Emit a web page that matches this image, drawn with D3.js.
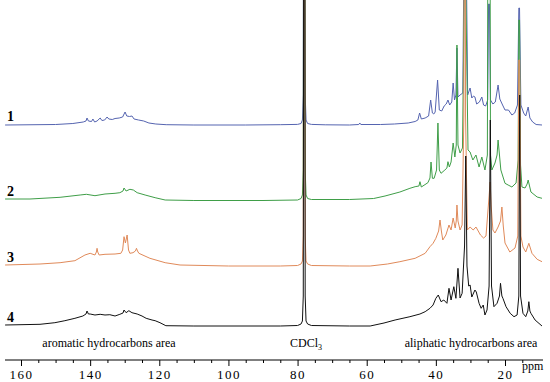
<!DOCTYPE html>
<html><head><meta charset="utf-8">
<script src="https://cdn.jsdelivr.net/npm/d3@7"></script>
<style>body{margin:0;background:#fff}svg{display:block}
text{font-family:'Liberation Serif','Times New Roman',serif}</style>
</head><body>
<div id="chart"></div>
<script>
// ---- data: [ppm, intensity] ----
const spectrumLabels = ["1","2","3","4"];
const spectrumColors = ["#5564b0","#3f9e48","#e08a5a","#111111"];
const majorTicks = [160,140,120,100,80,60,40,20];
const minorTicks = [155,150,145,135,130,125,115,110,105,95,90,85,75,70,65,55,50,45,35,30,25,15];
const regionLabels = ["aromatic hydrocarbons area","CDCl","aliphatic hydrocarbons area"];

const spectrum1 = [[164.6,0],[150,0.5],[145,1.5],[142,3],[141.2,4],[140.9,7],[140.5,4],[139.6,3.5],[139.2,6],[138.7,3],[138,4],[137.1,7],[136.6,4.5],[135.8,5],[135.1,8],[134.6,6],[133.6,5.5],[132.8,6.5],[131.6,7],[130.6,8],[129.9,13],[129.4,9],[128.6,8.5],[127.9,9],[127.3,6],[126,5],[124.5,4],[123,2],[121,1],[118,0.3],[110,0],
[95,0],[85,0.3],[80,0.6],[79,1.5],[78.6,5],[78.35,30],[78.2,500],[77.95,500],[77.8,30],[77.55,5],[77.1,1.5],[76,0.6],[72,0.2],[65,0],[62.3,0.5],[62,2],[61.7,0.5],[56,0.5],[52,1],[48,2],[46,3.5],[45.2,5],[44.7,12],[44.2,6],[43.1,7],[42.1,9],[41.5,25],[41,12],[40.6,11],[40.2,13],[39.5,45],[39,15],[38.3,14],[37.6,19],[37,21],[36.5,25],[36,20],[35.4,23],[35,42],[34.6,25],[34.2,30],[33.9,77],[33.6,28],[33,30],[32.2,32],[31.8,200],[31.6,500],[31.3,200],[30.8,30],[30.1,37],[29.6,27],[29.1,29],[28.7,28],[28.2,21],[27.4,23],[26.7,28],[26.2,20],[25.6,19],[25,25],[24.75,121],[24.5,121],[24.2,25],[23.5,21],[22.8,23],[22.0,40],[21.5,26],[20.7,20],[20,15],[19,15],[18,10],[17.2,12],[16.4,20],[16.0,117],[15.8,117],[15.4,20],[14.6,12],[14,9],[13.3,18],[12.8,7],[12,3],[11,0.5],[9.3,0]];

const spectrum2 = [[164.6,1],[157.4,1],[148.7,2.7],[142.9,5],[141.1,5.7],[138.6,4.3],[135.7,6],[132.8,6.7],[131.4,7.3],[130.5,9],[130.2,12],[129.6,9],[128.5,10.7],[127.5,10],[126.4,7.3],[124.1,5],[121.2,2.3],[118.3,0],[110,-0.5],
[90,-0.5],[80,0],[79,1.5],[78.6,5],[78.35,30],[78.2,500],[77.95,500],[77.8,30],[77.55,5],[77.1,1.5],[76,0.5],[65,0.5],[58,1.5],[54.7,4],[50.4,8],[47.5,11.7],[46,13.3],[44.9,14],[44.6,18.3],[44.2,13],[42.3,17.3],[41.7,22],[41.4,38],[41,21.7],[40.5,21.7],[39.8,30],[39.4,77],[39,30],[38.5,26.7],[37.4,30],[36.8,32],[36.5,38.3],[36.1,33],[35.6,38],[35.0,57],[34.5,43],[34.1,55],[33.9,155],[33.6,55],[33.0,47],[32.3,52],[31.8,200],[31.6,600],[31.3,200],[30.7,50],[30.1,48],[29.3,40],[28.4,45],[27.5,33],[26.7,43],[25.8,30],[25.1,45],[24.75,600],[24.5,600],[24.2,45],[23.8,30],[22.9,37],[22.3,45],[22.0,60],[21.6,45],[21.2,30],[20.0,16.7],[19.1,15],[18.0,13],[16.8,17],[16.2,40],[16.0,180],[15.8,180],[15.5,35],[15.1,13],[14.2,12],[13.6,16],[13.3,20],[12.9,14],[12.5,8],[10.7,3],[9.3,1.7]];

const spectrum3 = [[164.6,1],[154.5,2],[148.7,3.3],[144.4,5.3],[141.5,11],[140,12.7],[138.6,11],[138.2,14],[138.0,17.7],[137.8,14],[137.4,11],[135.7,11.7],[132.8,12],[131.1,12.7],[130.6,16],[130.2,29.3],[129.8,23],[129.3,31],[128.9,16],[128.5,12.7],[127.6,13.3],[126.9,15],[126.6,17.7],[126.3,15],[125.9,12.7],[122.7,7.7],[118.3,3.3],[114,1],[100,0],
[85,0],[80,0.5],[79,2],[78.6,5],[78.35,30],[78.2,500],[77.95,500],[77.8,30],[77.55,5],[77.1,2],[76,0.5],[65,0],[59,0],[54,2],[50.4,4.3],[46,7.7],[43.1,12.7],[41.7,19.3],[40.8,22.7],[40.0,27.7],[39.2,35],[38.8,46],[38.4,35],[38.0,26],[37.1,31],[36.2,41],[35.6,36],[35.0,48],[34.4,38],[34.1,45],[33.9,61],[33.6,45],[33.0,36],[32.4,41],[31.9,150],[31.65,600],[31.4,150],[30.9,36],[30.1,39],[29.2,36],[28.4,39],[27.1,31],[26.2,28],[25.5,30],[24.6,70],[24.3,84],[24.0,60],[23.5,36],[22.9,33],[22.0,39],[21.3,45],[20.9,59],[20.5,40],[20.0,23],[18.6,14],[17.1,18],[16.3,30],[16.0,206],[15.75,206],[15.4,30],[14.8,19],[14.0,14],[13.1,22.7],[12.2,12.7],[10.7,6.7],[9.3,4.3]];

const spectrum4 = [[164.6,1],[154.5,1.7],[150.2,3.3],[147.3,5.3],[144.4,7.7],[142.1,10],[141.2,12],[140.9,15],[140.5,12],[140.0,12],[138.6,11],[137.1,11.7],[135.7,11],[134.3,11.3],[132.8,10],[131.4,11.7],[130.5,13],[130.2,16],[129.6,13.3],[128.8,15.3],[127.9,13.3],[126.4,12],[125.0,10],[123.8,7.7],[122.1,6],[121.2,5.3],[119.8,3.3],[118.1,0.3],[110,0],
[85,0],[80,0.5],[79,2],[78.6,5],[78.35,30],[78.2,500],[77.95,500],[77.8,30],[77.55,5],[77.1,2],[76,0.5],[65,0],[59,0],[55,3],[51.8,6],[47.5,9.3],[44.6,12],[43.1,14.3],[41.7,17.7],[40.8,21],[40.0,27.7],[39.3,31],[38.5,24.3],[37.7,26],[36.8,22.7],[36.2,37.7],[35.6,26],[34.8,39.3],[34.2,27.7],[33.6,57.7],[33.0,28],[32.4,32.7],[31.7,80],[31.35,170],[31.0,60],[30.5,40],[30.1,41],[29.6,29],[28.7,36],[28.3,34],[27.5,22.7],[26.9,17.7],[26.3,21],[25.8,11],[25.2,16],[24.6,40],[24.25,206],[23.9,40],[23.2,19.3],[22.3,22.7],[21.6,30],[21.3,42.7],[20.9,30],[20.6,27.7],[19.7,19.3],[18.5,12.7],[17.4,9.3],[16.5,11],[16.0,30],[15.75,231],[15.5,30],[14.8,12.7],[14.0,9.3],[13.4,15],[13.1,24.3],[12.8,15],[12.5,12.7],[11.3,6],[9.3,0]];

const spectra = [spectrum1, spectrum2, spectrum3, spectrum4];

// ---- layout ----
const W = 550, H = 382;
const baselines = [125, 200, 266, 326];
const serif = "'Liberation Serif','Times New Roman',serif";
const svg = d3.select("#chart").append("svg").attr("width", W).attr("height", H);

const x = d3.scaleLinear().domain([160, 20]).range([21, 505]);
const axisY = 360;

spectra.forEach((data, i) => {
  const y = d3.scaleLinear().domain([0, 100]).range([baselines[i], baselines[i] - 100]);
  const line = d3.line().x(d => x(d[0])).y(d => y(d[1]));
  svg.append("path").datum(data)
    .attr("fill", "none").attr("stroke", spectrumColors[i])
    .attr("stroke-width", 1).attr("stroke-linejoin", "round")
    .attr("d", line);
  svg.append("text").attr("x", 7).attr("y", baselines[i] - 4)
    .style("font-family", serif)
    .attr("font-weight", "bold").attr("font-size", 14).attr("fill", "#000")
    .text(spectrumLabels[i]);
});

// axis
const ax = svg.append("g").attr("transform", `translate(0,${axisY})`);
ax.append("line").attr("x1", 5).attr("x2", 543).attr("y1", 0).attr("y2", 0)
  .attr("stroke", "#000").attr("stroke-width", 1);
const major = d3.axisBottom(x).tickValues(majorTicks).tickSize(6).tickPadding(4);
const gMaj = ax.append("g").call(major).attr("font-family", null);
gMaj.select(".domain").remove();
gMaj.selectAll("text").style("font-family", serif)
  .attr("font-size", 13).attr("fill", "#000").attr("letter-spacing", 1.5);
const minor = d3.axisBottom(x).tickValues(minorTicks).tickSize(3).tickFormat("");
const gMin = ax.append("g").call(minor);
gMin.select(".domain").remove();

svg.append("text").attr("x", 522).attr("y", 370)
  .style("font-family", serif)
  .attr("font-size", 12).attr("fill", "#000").text("ppm");

svg.append("text").attr("x", 109).attr("y", 347).attr("text-anchor", "middle")
  .style("font-family", serif).attr("font-size", 12).text(regionLabels[0]);
const cd = svg.append("text").attr("x", 306).attr("y", 347).attr("text-anchor", "middle")
  .style("font-family", serif).attr("font-size", 12);
cd.append("tspan").text(regionLabels[1]);
cd.append("tspan").attr("font-size", 8).attr("dy", 3).text("3");
svg.append("text").attr("x", 471).attr("y", 347).attr("text-anchor", "middle")
  .style("font-family", serif).attr("font-size", 12).text(regionLabels[2]);
</script>
</body></html>
